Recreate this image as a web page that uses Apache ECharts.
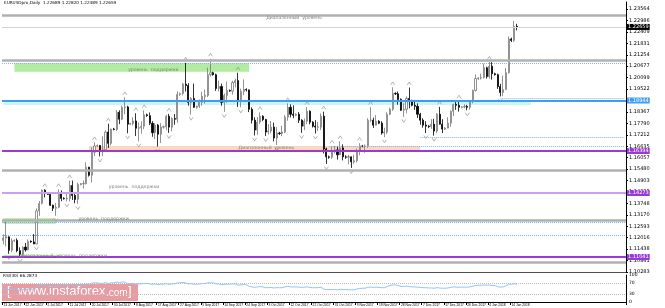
<!DOCTYPE html>
<html><head><meta charset="utf-8">
<script src="https://cdn.jsdelivr.net/npm/echarts@6/dist/echarts.min.js"></script>
<style>html,body{margin:0;padding:0;background:#fff}#c{width:665px;height:308px}</style>
</head><body><div id="c"></div>
<script>
// ---------- DATA ----------
const tickLabels = ["13 Jun 2017","22 Jun 2017","2 Jul 2017","11 Jul 2017","20 Jul 2017","30 Jul 2017","8 Aug 2017","17 Aug 2017","27 Aug 2017","5 Sep 2017","14 Sep 2017","24 Sep 2017","3 Oct 2017","12 Oct 2017","22 Oct 2017","31 Oct 2017","9 Nov 2017","19 Nov 2017","28 Nov 2017","7 Dec 2017","17 Dec 2017","26 Dec 2017","4 Jan 2018","14 Jan 2018"];

const opens = [
1.1188,1.1200,1.1206,1.1138,1.1186,1.1188,1.1136,1.1118,1.1154,1.1140,
1.1183,1.1180,1.1170,1.1337,1.1375,1.1442,1.1425,1.1420,1.1365,1.1350,
1.1355,1.1423,1.1400,1.1398,1.1400,1.1465,1.1415,1.1395,1.1470,1.1474,
1.1475,1.1557,1.1517,1.1633,1.1665,1.1667,1.1641,1.1646,1.1735,1.1678,
1.1750,1.1748,1.1835,1.1800,1.1860,1.1862,1.1775,1.1778,1.1791,1.1754,
1.1757,1.1764,1.1822,1.1818,1.1779,1.1732,1.1770,1.1724,1.1760,1.1762,
1.1815,1.1760,1.1803,1.1800,1.1925,1.1930,1.1977,1.1970,1.1885,1.1905,
1.1860,1.1866,1.1885,1.1915,1.1920,1.2025,1.2035,1.2025,1.1955,1.1965,
1.1885,1.1920,1.1945,1.1942,1.1985,1.1995,1.1890,1.1940,1.1950,1.1948,
1.1850,1.1795,1.1745,1.1785,1.1815,1.1798,1.1735,1.1740,1.1760,1.1705,
1.1730,1.1728,1.1735,1.1810,1.1860,1.1825,1.1820,1.1825,1.1795,1.1765,
1.1790,1.1840,1.1785,1.1765,1.1760,1.1760,1.1815,1.1650,1.1610,1.1608,
1.1640,1.1645,1.1620,1.1655,1.1610,1.1608,1.1610,1.1585,1.1590,1.1640,
1.1665,1.1662,1.1665,1.1795,1.1795,1.1770,1.1790,1.1780,1.1730,1.1735,
1.1825,1.1850,1.1930,1.1928,1.1900,1.1845,1.1850,1.1905,1.1895,1.1870,
1.1865,1.1825,1.1795,1.1770,1.1765,1.1762,1.1775,1.1740,1.1825,1.1775,
1.1750,1.1755,1.1780,1.1840,1.1875,1.1870,1.1860,1.1862,1.1865,1.1860,
1.1890,1.1945,1.2005,1.2008,1.2010,1.2060,1.2015,1.2068,1.2030,1.2025,
1.1965,1.1935,1.1950,1.2035,1.2205,1.2198,1.2269];
const highs = [
1.1218,1.1284,1.1208,1.1198,1.1193,1.1198,1.1153,1.1158,1.1175,1.1193,
1.1188,1.1220,1.1350,1.1387,1.1445,1.1446,1.1430,1.1425,1.1369,1.1377,
1.1446,1.1440,1.1406,1.1428,1.1490,1.1490,1.1433,1.1480,1.1478,1.1490,
1.1583,1.1560,1.1658,1.1683,1.1672,1.1670,1.1713,1.1744,1.1777,1.1752,
1.1756,1.1846,1.1845,1.1868,1.1910,1.1868,1.1782,1.1810,1.1830,1.1783,
1.1789,1.1845,1.1828,1.1834,1.1790,1.1780,1.1776,1.1780,1.1768,1.1822,
1.1827,1.1810,1.1826,1.1941,1.1934,1.1983,1.2085,1.1982,1.1912,1.1980,
1.1868,1.1899,1.1938,1.1950,1.2060,1.2105,1.2040,1.2030,1.1995,1.1980,
1.1930,1.1990,1.1950,1.1994,1.2005,1.2035,1.1954,1.2001,1.1956,1.1950,
1.1860,1.1810,1.1810,1.1835,1.1820,1.1802,1.1775,1.1791,1.1783,1.1760,
1.1736,1.1767,1.1820,1.1880,1.1875,1.1870,1.1830,1.1836,1.1800,1.1803,
1.1861,1.1845,1.1790,1.1795,1.1786,1.1829,1.1838,1.1656,1.1616,1.1665,
1.1665,1.1665,1.1688,1.1673,1.1618,1.1620,1.1611,1.1620,1.1652,1.1679,
1.1670,1.1672,1.1805,1.1861,1.1808,1.1821,1.1795,1.1790,1.1757,1.1835,
1.1858,1.1961,1.1936,1.1940,1.1905,1.1880,1.1915,1.1960,1.1898,1.1895,
1.1880,1.1832,1.1805,1.1790,1.1770,1.1800,1.1802,1.1830,1.1862,1.1800,
1.1760,1.1810,1.1844,1.1878,1.1891,1.1893,1.1866,1.1875,1.1872,1.1895,
1.1950,1.2026,1.2012,1.2030,1.2081,1.2065,1.2089,1.2088,1.2035,1.2030,
1.1979,1.2020,1.2059,1.2218,1.2212,1.2296,1.2282];
const lows = [
1.1168,1.1158,1.1120,1.1128,1.1180,1.1128,1.1107,1.1108,1.1131,1.1138,
1.1176,1.1169,1.1168,1.1312,1.1370,1.1405,1.1418,1.1362,1.1336,1.1312,
1.1350,1.1386,1.1394,1.1385,1.1385,1.1392,1.1375,1.1372,1.1466,1.1450,
1.1470,1.1510,1.1480,1.1614,1.1660,1.1612,1.1613,1.1640,1.1655,1.1667,
1.1744,1.1740,1.1775,1.1795,1.1825,1.1729,1.1770,1.1768,1.1715,1.1688,
1.1727,1.1750,1.1812,1.1770,1.1711,1.1700,1.1662,1.1680,1.1752,1.1745,
1.1731,1.1738,1.1772,1.1782,1.1918,1.1920,1.1940,1.1868,1.1823,1.1857,
1.1852,1.1856,1.1868,1.1879,1.1912,1.2015,1.2020,1.1943,1.1940,1.1868,
1.1837,1.1883,1.1938,1.1924,1.1960,1.1862,1.1860,1.1922,1.1940,1.1836,
1.1778,1.1718,1.1721,1.1776,1.1790,1.1715,1.1723,1.1729,1.1688,1.1670,
1.1720,1.1714,1.1730,1.1792,1.1809,1.1805,1.1815,1.1781,1.1731,1.1745,
1.1775,1.1774,1.1758,1.1728,1.1740,1.1745,1.1627,1.1574,1.1600,1.1600,
1.1627,1.1596,1.1620,1.1592,1.1600,1.1572,1.1554,1.1575,1.1581,1.1618,
1.1658,1.1631,1.1655,1.1785,1.1756,1.1768,1.1775,1.1722,1.1709,1.1725,
1.1820,1.1842,1.1922,1.1873,1.1841,1.1812,1.1830,1.1855,1.1865,1.1847,
1.1806,1.1772,1.1757,1.1730,1.1755,1.1752,1.1717,1.1730,1.1773,1.1730,
1.1745,1.1755,1.1762,1.1816,1.1847,1.1838,1.1855,1.1855,1.1845,1.1848,
1.1880,1.1940,1.1998,1.2000,1.2005,1.2005,1.2005,1.2000,1.2020,1.1953,
1.1915,1.1916,1.1950,1.2030,1.2190,1.2190,1.2249];
const closes = [
1.1200,1.1206,1.1138,1.1186,1.1188,1.1136,1.1118,1.1154,1.1140,1.1183,
1.1180,1.1170,1.1337,1.1375,1.1442,1.1425,1.1420,1.1365,1.1350,1.1355,
1.1423,1.1400,1.1398,1.1400,1.1465,1.1415,1.1395,1.1470,1.1474,1.1475,
1.1557,1.1517,1.1633,1.1665,1.1667,1.1641,1.1646,1.1735,1.1678,1.1750,
1.1748,1.1835,1.1800,1.1860,1.1862,1.1775,1.1778,1.1791,1.1754,1.1757,
1.1764,1.1822,1.1818,1.1779,1.1732,1.1770,1.1724,1.1760,1.1762,1.1815,
1.1760,1.1803,1.1800,1.1925,1.1930,1.1977,1.1970,1.1885,1.1905,1.1860,
1.1866,1.1885,1.1915,1.1920,1.2025,1.2035,1.2025,1.1955,1.1965,1.1885,
1.1920,1.1945,1.1942,1.1985,1.1995,1.1890,1.1940,1.1950,1.1948,1.1850,
1.1795,1.1745,1.1785,1.1815,1.1798,1.1735,1.1740,1.1760,1.1705,1.1730,
1.1728,1.1735,1.1810,1.1860,1.1825,1.1820,1.1825,1.1795,1.1765,1.1790,
1.1840,1.1785,1.1765,1.1760,1.1760,1.1815,1.1650,1.1610,1.1608,1.1640,
1.1645,1.1620,1.1655,1.1610,1.1608,1.1610,1.1585,1.1590,1.1640,1.1665,
1.1662,1.1665,1.1795,1.1795,1.1770,1.1790,1.1780,1.1730,1.1735,1.1825,
1.1850,1.1930,1.1928,1.1900,1.1845,1.1850,1.1905,1.1895,1.1870,1.1865,
1.1825,1.1795,1.1770,1.1765,1.1762,1.1775,1.1740,1.1825,1.1775,1.1750,
1.1755,1.1780,1.1840,1.1875,1.1870,1.1860,1.1862,1.1865,1.1860,1.1890,
1.1945,1.2005,1.2008,1.2010,1.2060,1.2015,1.2068,1.2030,1.2025,1.1965,
1.1935,1.1950,1.2035,1.2205,1.2198,1.2269,1.2266];

const rsiValues = [
45,50,45,48,48,45,43,46,45,48,48,47,58,61,64,62,
62,58,57,57,61,60,60,60,63,60,59,63,63,63,67,65,
70,71,71,69,69,72,68,71,71,74,72,74,74,68,68,69,
67,67,67,69,69,67,65,67,64,66,66,68,65,67,67,71,
71,72,71,67,68,66,66,67,68,68,71,71,71,67,67,64,
65,66,66,67,67,62,64,64,64,58,56,54,56,57,56,53,
53,54,52,53,53,53,56,58,56,56,56,55,54,55,56,54,
53,53,53,55,48,46,46,46,46,45,47,46,46,46,45,45,
48,50,51,51,55,55,54,55,54,53,53,57,61,63,63,61,
58,57,59,57,56,56,55,54,53,53,52,52,51,53,52,51,
51,52,54,56,55,55,55,55,55,56,58,61,62,62,63,62,
63,61,61,57,55,56,60,66,66,68,66];

const grayLevels = [1.23262, 1.20964, 1.15434, 1.12884, 1.10788];
const purpleLevels = [1.16394, 1.11041];
const lavenderLevels = [1.14273];
const blueLevels = [1.18944];
const dottedLevels = [1.20813, 1.12783, 1.12152];
const dottedFromBar = [180, 151, 118];
const dottedFromPrice = [1.19055, 1.17101, 1.16646];
const bidPrice = 1.22659;

// zones: [fromBar, toBar, topPrice, bottomPrice]
const zones = [
  [4, 89, 1.20823, 1.20399],
  [0, 191, 1.18970, 1.18717],
  [31, 151, 1.16646, 1.16445],
  [0, 19, 1.12960, 1.12758],
  [0, 21, 1.11142, 1.10990]
];
const annoTexts = ["Диапазонный  уровень", "уровень  поддержки", "Диапазонный  уровень", "уровень  поддержки", "уровень  поддержки", "Диапазонный  уровень  поддержки"];
const annoBars = [95, 45, 85, 38, 27, 6];
const annoPrices = [1.23111, 1.20484, 1.16545, 1.14576, 1.12960, 1.11091];

const titleText = "EURUSDpro,Daily  1.22689 1.22820 1.22489 1.22659";
const rsiTitle = "RSI(30) 66.2873";
const rsiLevels = [70, 30];
const rsiAxisValues = [0, 30, 70, 100];

// ---------- BUILD ----------
const N = 226;
const months = ['Jan','Feb','Mar','Apr','May','Jun','Jul','Aug','Sep','Oct','Nov','Dec'];
const categories = [];
{
  let d = new Date(Date.UTC(2017, 5, 13));
  for (let i = 0; i < N; i++) {
    categories.push(d.getUTCDate() + ' ' + months[d.getUTCMonth()] + ' ' + d.getUTCFullYear());
    do { d = new Date(d.getTime() + 86400000); } while (d.getUTCDay() === 6);
  }
}
const candleData = opens.map((o, i) => [o, closes[i], lows[i], highs[i]]);
const upFr = [], dnFr = [];
for (let i = 2; i < highs.length - 2; i++) {
  if (highs[i] > highs[i-1] && highs[i] > highs[i-2] && highs[i] >= highs[i+1] && highs[i] >= highs[i+2]) upFr.push([i, highs[i]]);
  if (lows[i] < lows[i-1] && lows[i] < lows[i-2] && lows[i] <= lows[i+1] && lows[i] <= lows[i+2]) dnFr.push([i, lows[i]]);
}

const yStep = 0.005774, yMin = 191 * 0.005774, yMax = yMin + 270 * 0.000505;
const FONT = 'DejaVu Sans';
const boxLabel = bg => ({show: true, position: 'end', formatter: p => Number(p.value).toFixed(5), color: '#fff',
  backgroundColor: bg, fontSize: 5, fontFamily: FONT, padding: [1, 1, 0, 1], distance: 1});
const noLabel = {show: false};

const lineData = [];
grayLevels.forEach(v => lineData.push({yAxis: v, lineStyle: {color: '#b0b0b0', width: 2.5, type: 'solid'}, label: noLabel}));
dottedLevels.forEach(v => lineData.push({yAxis: v, lineStyle: {color: '#7fb6f0', width: 1, type: 'dotted'}, label: noLabel}));
dottedFromBar.forEach((b, k) => lineData.push([
  {coord: [b, dottedFromPrice[k]], lineStyle: {color: '#7fb6f0', width: 1, type: 'dotted'}, label: noLabel},
  {coord: [N - 1, dottedFromPrice[k]]}]));
lavenderLevels.forEach(v => lineData.push({yAxis: v, lineStyle: {color: '#c7a0f0', width: 2, type: 'solid'}, label: boxLabel('#9a3ad6')}));
purpleLevels.forEach(v => lineData.push({yAxis: v, lineStyle: {color: '#9a3ad6', width: 2, type: 'solid'}, label: boxLabel('#9a3ad6')}));
blueLevels.forEach(v => lineData.push({yAxis: v, lineStyle: {color: '#3d9cf5', width: 2, type: 'solid'}, label: boxLabel('#3d9cf5')}));
lineData.push({yAxis: bidPrice, lineStyle: {color: '#d4d4d4', width: 1, type: 'solid'}, label: boxLabel('#000')});

const zoneStyles = [
  {color: '#b2eca2'},
  {color: '#c9f6ee'},
  {color: '#fbd8bd'},
  {color: '#dff5d4', borderColor: '#8fd67a', borderWidth: 1},
  {color: '#b2eca2'}
];
const areaData = zones.map((z, k) => [
  {xAxis: z[0], yAxis: z[2], itemStyle: zoneStyles[k]},
  {xAxis: z[1], yAxis: z[3]}]);

const annoData = annoTexts.map((t, k) => ({coord: [annoBars[k], annoPrices[k]], value: t,
  label: {show: true, formatter: t, position: 'right', distance: 0, fontSize: 4.6, fontFamily: FONT, color: '#7d7d7d'}}));

const tickShow = i => i % 8 === 0 && i / 8 < tickLabels.length;
const option = {
  animation: false,
  backgroundColor: '#fff',
  grid: [
    {left: 2, right: 39, top: 2, height: 270},
    {left: 2, right: 39, top: 275, height: 27}
  ],
  xAxis: [
    {type: 'category', gridIndex: 0, data: categories, boundaryGap: true,
      axisLine: {show: false}, axisTick: {show: false}, axisLabel: {show: false}, splitLine: {show: false}},
    {type: 'category', gridIndex: 1, data: categories, boundaryGap: true,
      axisLine: {show: true, lineStyle: {color: '#000', width: 1}},
      axisTick: {show: true, interval: tickShow, length: 3, lineStyle: {color: '#000'}},
      axisLabel: {interval: tickShow, formatter: (v, i) => tickLabels[i / 8] || '', showMinLabel: true, hideOverlap: false,
        fontSize: 3.3, fontFamily: 'Liberation Sans', color: '#000', align: 'left', margin: 1.5},
      splitLine: {show: false}}
  ],
  yAxis: [
    {type: 'value', gridIndex: 0, position: 'right', min: yMin, max: yMax, interval: yStep,
      axisLine: {show: true, lineStyle: {color: '#000', width: 1}},
      axisTick: {show: true, length: 2, lineStyle: {color: '#000'}},
      splitLine: {show: false},
      axisLabel: {fontSize: 5, fontFamily: FONT, color: '#000', margin: 3, formatter: v => v.toFixed(5), showMaxLabel: false}},
    {type: 'value', gridIndex: 1, position: 'right', min: 0, max: 100,
      axisLine: {show: true, lineStyle: {color: '#000', width: 1}},
      axisTick: {show: false}, splitLine: {show: false},
      axisLabel: {customValues: rsiAxisValues, fontSize: 4.5, fontFamily: FONT, color: '#000', margin: 3}}
  ],
  series: [
    {type: 'line', xAxisIndex: 0, yAxisIndex: 0, data: [], silent: true, z: 1,
      markArea: {silent: true, label: {show: false}, data: areaData}},
    {type: 'line', xAxisIndex: 0, yAxisIndex: 0, data: [], silent: true, z: 2,
      markLine: {silent: true, symbol: ['none', 'none'], animation: false, precision: 5, data: lineData}},
    {type: 'candlestick', xAxisIndex: 0, yAxisIndex: 0, data: candleData, z: 3, barWidth: 1.6,
      itemStyle: {color: '#ffffff', color0: '#000000', borderColor: '#777777', borderColor0: '#000000', borderWidth: 0.8}},
    {type: 'scatter', xAxisIndex: 0, yAxisIndex: 0, data: upFr, z: 4, silent: true,
      symbol: 'path://M0,6 L3,0 L6,6', symbolSize: [4, 3], symbolOffset: [0, -4],
      itemStyle: {color: 'rgba(0,0,0,0)', borderColor: '#8a8a8a', borderWidth: 0.8}},
    {type: 'scatter', xAxisIndex: 0, yAxisIndex: 0, data: dnFr, z: 4, silent: true,
      symbol: 'path://M0,0 L3,6 L6,0', symbolSize: [4, 3], symbolOffset: [0, 4],
      itemStyle: {color: 'rgba(0,0,0,0)', borderColor: '#8a8a8a', borderWidth: 0.8}},
    {type: 'line', xAxisIndex: 0, yAxisIndex: 0, data: [], silent: true, z: 5,
      markPoint: {silent: true, symbol: 'rect', symbolSize: 1, itemStyle: {color: 'rgba(0,0,0,0)'}, data: annoData}},
    {type: 'line', xAxisIndex: 1, yAxisIndex: 1, data: rsiValues, showSymbol: false, silent: true, z: 3,
      lineStyle: {color: '#8ec3f7', width: 1},
      markLine: {silent: true, symbol: ['none', 'none'], label: {show: false},
        lineStyle: {color: '#bdbdbd', width: 1, type: 'dotted'}, data: rsiLevels.map(v => ({yAxis: v}))}}
  ],
  graphic: [
    {type: 'text', left: 4, top: 1, style: {text: titleText, fontSize: 4.2, fontFamily: FONT, fill: '#000'}},
    {type: 'line', shape: {x1: 0, y1: 272.5, x2: 626, y2: 272.5}, style: {stroke: '#505050', lineWidth: 1}},
    {type: 'text', left: 3, top: 274, style: {text: rsiTitle, fontSize: 4.2, fontFamily: FONT, fill: '#000'}},
    {type: 'group', left: 2, top: 284, z: 100, children: [
      {type: 'rect', shape: {x: 0, y: 0, width: 136, height: 17}, style: {fill: 'rgba(214,72,82,0.55)'}},
      {type: 'text', x: 5, y: 1, style: {text: '[', fontSize: 13, fontFamily: 'Liberation Sans', fill: '#fff'}},
      {type: 'text', x: 16, y: 1, style: {text: 'www.instaforex', fontSize: 13, fontFamily: 'Liberation Sans', fill: '#fff'}},
      {type: 'text', x: 104, y: 4, style: {text: '.com', fontSize: 10, fontFamily: 'Liberation Sans', fill: '#fff'}},
      {type: 'text', x: 126, y: 1, style: {text: ']', fontSize: 13, fontFamily: 'Liberation Sans', fill: '#fff'}}
    ]}
  ]
};
const chart = echarts.init(document.getElementById('c'), null, {renderer: 'canvas'});
chart.setOption(option);
</script></body></html>
